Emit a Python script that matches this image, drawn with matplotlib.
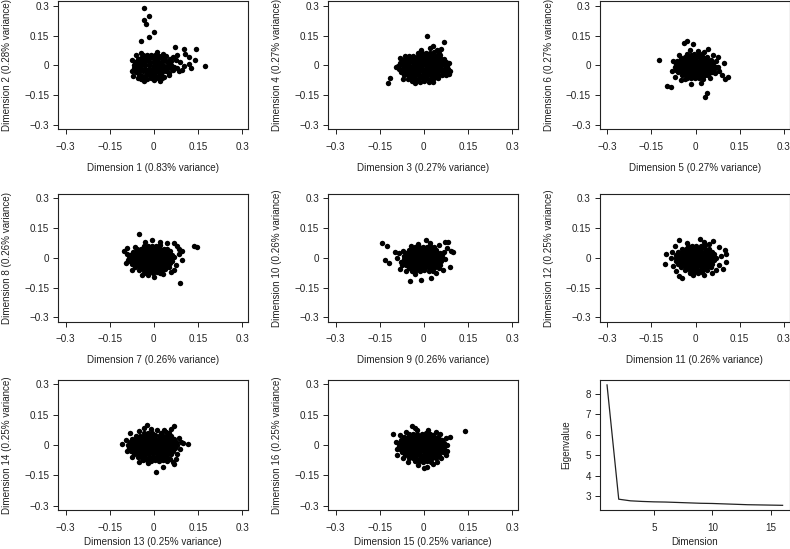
import matplotlib
matplotlib.use("Agg")
import matplotlib.pyplot as plt

plt.rcParams["font.family"] = ["Liberation Sans", "DejaVu Sans"]

# scores (x = odd dimension, y = even dimension)
dim1_dim2 = [
    (-0.036, 0.053), (-0.022, 0.050), (-0.009, 0.054), (0.004, 0.051), (0.017, 0.049),
    (-0.055, 0.033), (-0.042, 0.036), (-0.029, 0.034), (-0.016, 0.037), (-0.003, 0.035), (0.010, 0.033), (0.023, 0.036), (0.035, 0.032),
    (-0.064, 0.016), (-0.051, 0.019), (-0.038, 0.017), (-0.025, 0.020), (-0.012, 0.018), (0.001, 0.016), (0.014, 0.019), (0.027, 0.017), (0.040, 0.020), (0.050, 0.015),
    (-0.069, 0.002), (-0.056, -0.001), (-0.043, 0.003), (-0.030, 0.000), (-0.017, 0.002), (-0.004, -0.002), (0.009, 0.001), (0.022, 0.003), (0.035, -0.001), (0.048, 0.002), (0.060, 0.000),
    (-0.068, -0.015), (-0.055, -0.018), (-0.042, -0.014), (-0.029, -0.017), (-0.016, -0.016), (-0.003, -0.019), (0.010, -0.015), (0.023, -0.018), (0.036, -0.016), (0.049, -0.014), (0.061, -0.019),
    (-0.062, -0.032), (-0.049, -0.035), (-0.036, -0.031), (-0.023, -0.034), (-0.010, -0.033), (0.003, -0.036), (0.016, -0.032), (0.029, -0.034), (0.042, -0.031),
    (-0.052, -0.049), (-0.039, -0.052), (-0.026, -0.048), (-0.013, -0.051), (0.000, -0.050), (0.013, -0.053), (0.026, -0.049),
    (-0.036, -0.064), (-0.022, -0.067), (-0.008, -0.063), (0.006, -0.066), (0.019, -0.062),
    (-0.035, 0.290), (-0.018, 0.248), (-0.035, 0.228), (-0.027, 0.206), (0.002, 0.169), (-0.018, 0.144), (-0.044, 0.123),
    (0.073, 0.094), (0.101, 0.082), (0.144, 0.081), (0.107, 0.056), (0.120, 0.044), (0.141, 0.027), (0.173, -0.002),
    (0.121, 0.005), (0.127, -0.015), (0.101, -0.005), (0.090, 0.019), (0.080, 0.050), (0.095, -0.025), (0.064, 0.040),
    (0.070, -0.010), (0.085, -0.030), (-0.072, -0.053), (-0.043, -0.070), (-0.035, -0.078), (-0.001, -0.073), (0.027, -0.065),
    (0.050, -0.040), (0.075, 0.025), (0.060, 0.020), (0.065, -0.025), (0.078, -0.015), (-0.060, 0.050), (-0.045, 0.060),
    (0.030, 0.055), (0.040, 0.045), (0.055, 0.030), (-0.075, -0.030), (-0.074, 0.025), (0.050, -0.050), (-0.055, -0.062),
    (0.035, -0.060), (0.020, -0.080), (0.010, 0.065),
]

dim3_dim4 = [
    (-0.020, 0.063), (-0.006, 0.060), (0.008, 0.064), (0.022, 0.061), (0.036, 0.066),
    (-0.050, 0.045), (-0.037, 0.048), (-0.024, 0.044), (-0.011, 0.047), (0.002, 0.046), (0.015, 0.049), (0.028, 0.045), (0.041, 0.048), (0.054, 0.050),
    (-0.070, 0.029), (-0.057, 0.032), (-0.044, 0.028), (-0.031, 0.031), (-0.018, 0.030), (-0.005, 0.033), (0.008, 0.029), (0.021, 0.032), (0.034, 0.028), (0.047, 0.031), (0.060, 0.034), (0.070, 0.030),
    (-0.080, 0.013), (-0.067, 0.016), (-0.054, 0.012), (-0.041, 0.015), (-0.028, 0.014), (-0.015, 0.017), (-0.002, 0.013), (0.011, 0.016), (0.024, 0.012), (0.037, 0.015), (0.050, 0.017), (0.063, 0.013), (0.075, 0.016),
    (-0.088, -0.003), (-0.075, 0.000), (-0.062, -0.004), (-0.049, -0.001), (-0.036, -0.002), (-0.023, 0.001), (-0.010, -0.003), (0.003, 0.000), (0.016, -0.004), (0.029, -0.001), (0.042, 0.001), (0.055, -0.003), (0.068, 0.000), (0.080, -0.002),
    (-0.085, -0.019), (-0.072, -0.016), (-0.059, -0.020), (-0.046, -0.017), (-0.033, -0.018), (-0.020, -0.015), (-0.007, -0.019), (0.006, -0.016), (0.019, -0.020), (0.032, -0.017), (0.045, -0.015), (0.058, -0.019), (0.071, -0.016), (0.083, -0.020),
    (-0.078, -0.035), (-0.065, -0.032), (-0.052, -0.036), (-0.039, -0.033), (-0.026, -0.034), (-0.013, -0.031), (0.000, -0.035), (0.013, -0.032), (0.026, -0.036), (0.039, -0.033), (0.052, -0.031), (0.065, -0.035), (0.078, -0.034),
    (-0.068, -0.051), (-0.055, -0.048), (-0.042, -0.052), (-0.029, -0.049), (-0.016, -0.050), (-0.003, -0.047), (0.010, -0.051), (0.023, -0.048), (0.036, -0.052), (0.049, -0.049), (0.062, -0.047),
    (-0.055, -0.067), (-0.042, -0.064), (-0.029, -0.068), (-0.016, -0.065), (-0.003, -0.066), (0.010, -0.063), (0.023, -0.067), (0.036, -0.064), (0.048, -0.062),
    (-0.040, -0.081), (-0.026, -0.078), (-0.012, -0.082), (0.002, -0.079), (0.016, -0.083),
    (0.011, 0.147), (0.070, 0.116), (-0.115, -0.065), (-0.122, -0.090), (-0.070, -0.070), (0.090, -0.030), (0.086, 0.012),
    (0.060, 0.080), (0.045, 0.075), (0.020, 0.085), (0.030, 0.095), (0.052, 0.062), (-0.065, 0.045), (-0.080, 0.035),
    (-0.095, -0.010), (0.074, -0.050), (0.085, -0.045), (-0.030, -0.090), (0.030, -0.085), (-0.010, 0.075),
]

dim5_dim6 = [
    (-0.030, 0.056), (-0.017, 0.053), (-0.004, 0.057), (0.009, 0.054), (0.022, 0.058),
    (-0.050, 0.039), (-0.037, 0.042), (-0.024, 0.038), (-0.011, 0.041), (0.002, 0.040), (0.015, 0.043), (0.028, 0.039), (0.040, 0.042),
    (-0.062, 0.024), (-0.049, 0.027), (-0.036, 0.023), (-0.023, 0.026), (-0.010, 0.025), (0.003, 0.028), (0.016, 0.024), (0.029, 0.027), (0.042, 0.023), (0.054, 0.026),
    (-0.068, 0.009), (-0.055, 0.012), (-0.042, 0.008), (-0.029, 0.011), (-0.016, 0.010), (-0.003, 0.013), (0.010, 0.009), (0.023, 0.012), (0.036, 0.008), (0.049, 0.011), (0.061, 0.013),
    (-0.070, -0.006), (-0.057, -0.003), (-0.044, -0.007), (-0.031, -0.004), (-0.018, -0.005), (-0.005, -0.002), (0.008, -0.006), (0.021, -0.003), (0.034, -0.007), (0.047, -0.004), (0.060, -0.002), (0.068, -0.006),
    (-0.066, -0.021), (-0.053, -0.018), (-0.040, -0.022), (-0.027, -0.019), (-0.014, -0.020), (-0.001, -0.017), (0.012, -0.021), (0.025, -0.018), (0.038, -0.022), (0.051, -0.019), (0.062, -0.017),
    (-0.058, -0.036), (-0.045, -0.033), (-0.032, -0.037), (-0.019, -0.034), (-0.006, -0.035), (0.007, -0.032), (0.020, -0.036), (0.033, -0.033), (0.046, -0.037), (0.056, -0.034),
    (-0.046, -0.051), (-0.033, -0.048), (-0.020, -0.052), (-0.007, -0.049), (0.006, -0.050), (0.019, -0.047), (0.032, -0.051), (0.044, -0.048),
    (-0.030, -0.065), (-0.016, -0.062), (-0.002, -0.066), (0.012, -0.063), (0.026, -0.067),
    (-0.126, 0.027), (-0.098, -0.103), (-0.084, -0.107), (0.038, -0.137), (0.033, -0.157), (-0.040, 0.114), (-0.028, 0.120),
    (-0.008, 0.105), (0.043, 0.083), (0.098, 0.010), (0.110, -0.060), (0.100, -0.070), (0.090, -0.050), (0.077, -0.010),
    (-0.050, -0.075), (0.020, -0.090), (-0.015, -0.095), (-0.075, 0.020), (-0.080, -0.030), (-0.070, -0.060), (0.075, 0.040),
    (0.070, 0.020), (0.060, 0.050), (-0.055, 0.050), (-0.020, 0.075), (0.010, 0.070), (0.030, 0.065), (0.050, -0.065),
    (0.065, -0.040), (0.080, -0.030), (-0.035, -0.070),
]

dim7_dim8 = [
    (-0.035, 0.061), (-0.021, 0.058), (-0.007, 0.062), (0.007, 0.059), (0.021, 0.063),
    (-0.058, 0.044), (-0.045, 0.047), (-0.032, 0.043), (-0.019, 0.046), (-0.006, 0.045), (0.007, 0.048), (0.020, 0.044), (0.033, 0.047), (0.045, 0.043),
    (-0.072, 0.029), (-0.059, 0.032), (-0.046, 0.028), (-0.033, 0.031), (-0.020, 0.030), (-0.007, 0.033), (0.006, 0.029), (0.019, 0.032), (0.032, 0.028), (0.045, 0.031), (0.056, 0.033),
    (-0.080, 0.014), (-0.067, 0.017), (-0.054, 0.013), (-0.041, 0.016), (-0.028, 0.015), (-0.015, 0.018), (-0.002, 0.014), (0.011, 0.017), (0.024, 0.013), (0.037, 0.016), (0.050, 0.018), (0.062, 0.014),
    (-0.083, -0.001), (-0.070, 0.002), (-0.057, -0.002), (-0.044, 0.001), (-0.031, 0.000), (-0.018, 0.003), (-0.005, -0.001), (0.008, 0.002), (0.021, -0.002), (0.034, 0.001), (0.047, 0.003), (0.060, -0.001), (0.068, 0.002),
    (-0.080, -0.016), (-0.067, -0.013), (-0.054, -0.017), (-0.041, -0.014), (-0.028, -0.015), (-0.015, -0.012), (-0.002, -0.016), (0.011, -0.013), (0.024, -0.017), (0.037, -0.014), (0.050, -0.012), (0.062, -0.016),
    (-0.074, -0.031), (-0.061, -0.028), (-0.048, -0.032), (-0.035, -0.029), (-0.022, -0.030), (-0.009, -0.027), (0.004, -0.031), (0.017, -0.028), (0.030, -0.032), (0.043, -0.029), (0.055, -0.027),
    (-0.064, -0.046), (-0.051, -0.043), (-0.038, -0.047), (-0.025, -0.044), (-0.012, -0.045), (0.001, -0.042), (0.014, -0.046), (0.027, -0.043), (0.040, -0.047), (0.050, -0.044),
    (-0.050, -0.061), (-0.037, -0.058), (-0.024, -0.062), (-0.011, -0.059), (0.002, -0.060), (0.015, -0.057), (0.028, -0.061), (0.038, -0.058),
    (-0.032, -0.074), (-0.018, -0.071), (-0.004, -0.075), (0.010, -0.072), (0.022, -0.076),
    (0.135, 0.058), (0.148, 0.056), (0.090, -0.125), (-0.050, 0.118), (-0.100, 0.035), (-0.090, 0.050), (0.070, 0.075),
    (0.097, 0.035), (0.096, -0.010), (0.080, 0.060), (0.085, 0.045), (0.075, -0.035), (0.085, 0.020), (-0.092, 0.020),
    (-0.088, -0.010), (-0.095, -0.025), (-0.075, -0.060), (-0.020, -0.088), (0.030, -0.080), (0.060, -0.070), (0.070, -0.060),
    (-0.030, 0.080), (-0.005, 0.090), (0.020, 0.080), (0.045, 0.075), (-0.065, 0.055), (-0.040, -0.085), (0.000, -0.095),
]

dim9_dim10 = [
    (-0.030, 0.056), (-0.017, 0.053), (-0.004, 0.057), (0.009, 0.054), (0.022, 0.058), (0.034, 0.055),
    (-0.050, 0.039), (-0.037, 0.042), (-0.024, 0.038), (-0.011, 0.041), (0.002, 0.040), (0.015, 0.043), (0.028, 0.039), (0.041, 0.042),
    (-0.060, 0.024), (-0.047, 0.027), (-0.034, 0.023), (-0.021, 0.026), (-0.008, 0.025), (0.005, 0.028), (0.018, 0.024), (0.031, 0.027), (0.044, 0.023), (0.055, 0.026),
    (-0.066, 0.009), (-0.053, 0.012), (-0.040, 0.008), (-0.027, 0.011), (-0.014, 0.010), (-0.001, 0.013), (0.012, 0.009), (0.025, 0.012), (0.038, 0.008), (0.051, 0.011), (0.062, 0.013),
    (-0.068, -0.006), (-0.055, -0.003), (-0.042, -0.007), (-0.029, -0.004), (-0.016, -0.005), (-0.003, -0.002), (0.010, -0.006), (0.023, -0.003), (0.036, -0.007), (0.049, -0.004), (0.062, -0.002),
    (-0.065, -0.021), (-0.052, -0.018), (-0.039, -0.022), (-0.026, -0.019), (-0.013, -0.020), (0.000, -0.017), (0.013, -0.021), (0.026, -0.018), (0.039, -0.022), (0.052, -0.019), (0.060, -0.017),
    (-0.060, -0.036), (-0.047, -0.033), (-0.034, -0.037), (-0.021, -0.034), (-0.008, -0.035), (0.005, -0.032), (0.018, -0.036), (0.031, -0.033), (0.044, -0.037), (0.055, -0.034),
    (-0.052, -0.051), (-0.039, -0.048), (-0.026, -0.052), (-0.013, -0.049), (0.000, -0.050), (0.013, -0.047), (0.026, -0.051), (0.039, -0.048), (0.050, -0.050),
    (-0.040, -0.065), (-0.026, -0.062), (-0.012, -0.066), (0.002, -0.063), (0.016, -0.067), (0.030, -0.064),
    (-0.141, 0.076), (-0.127, 0.060), (-0.133, -0.010), (-0.117, -0.025), (-0.092, 0.000), (-0.098, 0.030), (-0.086, 0.023),
    (-0.080, -0.055), (-0.048, -0.118), (-0.009, -0.110), (0.024, -0.100), (0.073, 0.082), (0.082, 0.080), (0.093, 0.035),
    (0.090, -0.045), (0.008, 0.088), (0.073, -0.005), (-0.078, -0.020), (-0.075, -0.035), (-0.070, 0.035), (0.070, 0.030),
    (0.078, 0.050), (0.065, -0.060), (0.040, -0.075), (-0.030, -0.080), (-0.060, -0.065), (0.020, 0.075), (-0.020, 0.070),
    (0.050, 0.065), (-0.045, 0.060), (0.100, 0.030),
]

dim11_dim12 = [
    (-0.025, 0.061), (-0.011, 0.058), (0.003, 0.062), (0.017, 0.059), (0.031, 0.063),
    (-0.045, 0.044), (-0.032, 0.047), (-0.019, 0.043), (-0.006, 0.046), (0.007, 0.045), (0.020, 0.048), (0.033, 0.044), (0.046, 0.047),
    (-0.058, 0.029), (-0.045, 0.032), (-0.032, 0.028), (-0.019, 0.031), (-0.006, 0.030), (0.007, 0.033), (0.020, 0.029), (0.033, 0.032), (0.046, 0.028), (0.057, 0.031),
    (-0.065, 0.014), (-0.052, 0.017), (-0.039, 0.013), (-0.026, 0.016), (-0.013, 0.015), (0.000, 0.018), (0.013, 0.014), (0.026, 0.017), (0.039, 0.013), (0.052, 0.016), (0.064, 0.018),
    (-0.068, -0.001), (-0.055, 0.002), (-0.042, -0.002), (-0.029, 0.001), (-0.016, 0.000), (-0.003, 0.003), (0.010, -0.001), (0.023, 0.002), (0.036, -0.002), (0.049, 0.001), (0.062, 0.003), (0.070, -0.001),
    (-0.066, -0.016), (-0.053, -0.013), (-0.040, -0.017), (-0.027, -0.014), (-0.014, -0.015), (-0.001, -0.012), (0.012, -0.016), (0.025, -0.013), (0.038, -0.017), (0.051, -0.014), (0.064, -0.012),
    (-0.060, -0.031), (-0.047, -0.028), (-0.034, -0.032), (-0.021, -0.029), (-0.008, -0.030), (0.005, -0.027), (0.018, -0.031), (0.031, -0.028), (0.044, -0.032), (0.057, -0.029),
    (-0.050, -0.046), (-0.037, -0.043), (-0.024, -0.047), (-0.011, -0.044), (0.002, -0.045), (0.015, -0.042), (0.028, -0.046), (0.041, -0.043), (0.052, -0.047),
    (-0.035, -0.061), (-0.022, -0.058), (-0.009, -0.062), (0.004, -0.059), (0.017, -0.060), (0.030, -0.057), (0.040, -0.061),
    (-0.020, -0.074), (-0.006, -0.071), (0.008, -0.075), (0.022, -0.072),
    (-0.102, 0.019), (-0.105, -0.030), (-0.057, -0.093), (-0.046, -0.104), (0.100, 0.040), (0.102, 0.020), (0.105, -0.020),
    (0.093, -0.054), (0.060, 0.085), (0.014, 0.094), (-0.055, 0.090), (-0.080, 0.030), (-0.085, 0.000), (-0.078, -0.040),
    (0.080, 0.055), (0.085, 0.010), (0.080, -0.035), (0.070, -0.060), (-0.070, 0.060), (0.030, 0.080), (-0.030, 0.075),
    (0.045, 0.070), (-0.065, -0.065), (0.030, -0.085), (-0.010, -0.088), (0.055, -0.075),
]

dim13_dim14 = [
    (-0.035, 0.061), (-0.021, 0.058), (-0.007, 0.062), (0.025, 0.060), (0.040, 0.063), (0.052, 0.058),
    (-0.060, 0.044), (-0.047, 0.047), (-0.034, 0.043), (-0.021, 0.046), (-0.008, 0.045), (0.005, 0.048), (0.018, 0.044), (0.031, 0.047), (0.044, 0.043), (0.057, 0.046),
    (-0.074, 0.029), (-0.061, 0.032), (-0.048, 0.028), (-0.035, 0.031), (-0.022, 0.030), (-0.009, 0.033), (0.004, 0.029), (0.017, 0.032), (0.030, 0.028), (0.043, 0.031), (0.056, 0.033), (0.068, 0.029),
    (-0.082, 0.014), (-0.069, 0.017), (-0.056, 0.013), (-0.043, 0.016), (-0.030, 0.015), (-0.017, 0.018), (-0.004, 0.014), (0.009, 0.017), (0.022, 0.013), (0.035, 0.016), (0.048, 0.018), (0.061, 0.014), (0.074, 0.016),
    (-0.087, -0.001), (-0.074, 0.002), (-0.061, -0.002), (-0.048, 0.001), (-0.035, 0.000), (-0.022, 0.003), (-0.009, -0.001), (0.004, 0.002), (0.017, -0.002), (0.030, 0.001), (0.043, 0.003), (0.056, -0.001), (0.069, 0.002), (0.080, -0.002),
    (-0.084, -0.016), (-0.071, -0.013), (-0.058, -0.017), (-0.045, -0.014), (-0.032, -0.015), (-0.019, -0.012), (-0.006, -0.016), (0.007, -0.013), (0.020, -0.017), (0.033, -0.014), (0.046, -0.012), (0.059, -0.016), (0.072, -0.013),
    (-0.078, -0.031), (-0.065, -0.028), (-0.052, -0.032), (-0.039, -0.029), (-0.026, -0.030), (-0.013, -0.027), (0.000, -0.031), (0.013, -0.028), (0.026, -0.032), (0.039, -0.029), (0.052, -0.027), (0.065, -0.031),
    (-0.068, -0.046), (-0.055, -0.043), (-0.042, -0.047), (-0.029, -0.044), (-0.016, -0.045), (-0.003, -0.042), (0.010, -0.046), (0.023, -0.043), (0.036, -0.047), (0.049, -0.044), (0.060, -0.046),
    (-0.055, -0.061), (-0.042, -0.058), (-0.029, -0.062), (-0.016, -0.059), (-0.003, -0.060), (0.010, -0.057), (0.023, -0.061), (0.036, -0.058), (0.046, -0.062),
    (-0.038, -0.076), (-0.024, -0.073), (-0.010, -0.077), (0.004, -0.074), (0.018, -0.078), (0.030, -0.072),
    (-0.108, 0.005), (0.116, 0.003), (-0.024, 0.100), (0.008, -0.134), (0.030, -0.110), (0.065, -0.085), (0.070, -0.092),
    (0.054, -0.067), (-0.082, 0.060), (0.070, 0.092), (0.093, 0.017), (0.060, 0.080), (0.085, 0.035), (0.090, -0.020),
    (0.100, 0.010), (-0.095, 0.025), (-0.092, -0.030), (-0.075, -0.060), (-0.050, -0.085), (-0.020, -0.090), (0.012, 0.075),
    (-0.050, 0.070), (-0.010, 0.080), (-0.035, 0.085), (0.080, -0.045), (0.035, 0.075), (0.045, -0.080), (0.075, -0.070),
]

dim15_dim16 = [
    (-0.050, 0.056), (-0.036, 0.053), (-0.022, 0.057), (-0.008, 0.054), (0.006, 0.058), (0.020, 0.055), (0.032, 0.052),
    (-0.068, 0.039), (-0.055, 0.042), (-0.042, 0.038), (-0.029, 0.041), (-0.016, 0.040), (-0.003, 0.043), (0.010, 0.039), (0.023, 0.042), (0.036, 0.038), (0.048, 0.041),
    (-0.078, 0.024), (-0.065, 0.027), (-0.052, 0.023), (-0.039, 0.026), (-0.026, 0.025), (-0.013, 0.028), (0.000, 0.024), (0.013, 0.027), (0.026, 0.023), (0.039, 0.026), (0.052, 0.028), (0.062, 0.024),
    (-0.083, 0.009), (-0.070, 0.012), (-0.057, 0.008), (-0.044, 0.011), (-0.031, 0.010), (-0.018, 0.013), (-0.005, 0.009), (0.008, 0.012), (0.021, 0.008), (0.034, 0.011), (0.047, 0.013), (0.060, 0.009), (0.070, 0.012),
    (-0.085, -0.006), (-0.072, -0.003), (-0.059, -0.007), (-0.046, -0.004), (-0.033, -0.005), (-0.020, -0.002), (-0.007, -0.006), (0.006, -0.003), (0.019, -0.007), (0.032, -0.004), (0.045, -0.002), (0.058, -0.006), (0.070, -0.003),
    (-0.082, -0.021), (-0.069, -0.018), (-0.056, -0.022), (-0.043, -0.019), (-0.030, -0.020), (-0.017, -0.017), (-0.004, -0.021), (0.009, -0.018), (0.022, -0.022), (0.035, -0.019), (0.048, -0.017), (0.061, -0.021), (0.070, -0.018),
    (-0.075, -0.036), (-0.062, -0.033), (-0.049, -0.037), (-0.036, -0.034), (-0.023, -0.035), (-0.010, -0.032), (0.003, -0.036), (0.016, -0.033), (0.029, -0.037), (0.042, -0.034), (0.055, -0.032), (0.065, -0.036),
    (-0.065, -0.051), (-0.052, -0.048), (-0.039, -0.052), (-0.026, -0.049), (-0.013, -0.050), (0.000, -0.047), (0.013, -0.051), (0.026, -0.048), (0.039, -0.052), (0.050, -0.049),
    (-0.050, -0.066), (-0.037, -0.063), (-0.024, -0.067), (-0.011, -0.064), (0.002, -0.065), (0.015, -0.062), (0.028, -0.066), (0.040, -0.063),
    (-0.030, -0.081), (-0.016, -0.078), (-0.002, -0.082), (0.012, -0.079), (0.024, -0.083),
    (0.141, 0.067), (-0.104, 0.055), (-0.041, 0.096), (-0.054, -0.085), (0.010, -0.110), (0.090, 0.040), (-0.090, -0.048),
    (0.000, -0.115), (-0.020, -0.100), (0.030, -0.095), (0.075, 0.035), (0.080, 0.000), (0.078, -0.030), (0.060, -0.065),
    (-0.095, 0.015), (-0.090, -0.020), (-0.080, 0.050), (-0.060, 0.065), (-0.025, 0.075), (0.015, 0.075), (0.040, 0.065),
    (-0.070, -0.065), (0.055, 0.055), (0.075, -0.050), (-0.030, 0.085), (0.045, -0.085),
]

panels = [dim1_dim2, dim3_dim4, dim5_dim6, dim7_dim8, dim9_dim10, dim11_dim12, dim13_dim14, dim15_dim16]
variance = ["0.83%", "0.28%", "0.27%", "0.27%", "0.27%", "0.27%", "0.26%", "0.26%",
            "0.26%", "0.26%", "0.26%", "0.25%", "0.25%", "0.25%", "0.25%", "0.25%"]

score_ticks = [-0.3, -0.15, 0, 0.15, 0.3]
score_labels = ["\u22120.3", "\u22120.15", "0", "0.15", "0.3"]

dimensions = list(range(1, 17))
eigenvalues = [8.44, 2.85, 2.77, 2.74, 2.72, 2.71, 2.69, 2.67,
               2.65, 2.64, 2.62, 2.60, 2.58, 2.57, 2.56, 2.55]

fig = plt.figure(figsize=(7.9, 5.49), dpi=100)

lefts = [0.0738, 0.4156, 0.7595]
bottoms = [0.7645, 0.4140, 0.0710]
heights = [0.2330, 0.2326, 0.2368]
xlab_y = [-0.26, -0.26, -0.205]
width = 0.2400
fs = 7.1


def style(ax):
    for s in ax.spines.values():
        s.set_linewidth(0.8)
        s.set_color("#222222")
    ax.tick_params(direction="out", length=3.6, width=0.7, color="#222222",
                   labelsize=fs, labelcolor="#222222")
    ax.tick_params(axis="x", pad=5.5)
    ax.tick_params(axis="y", pad=3)


for i in range(9):
    r, c = divmod(i, 3)
    ax = fig.add_axes([lefts[c], bottoms[r], width, heights[r]])
    style(ax)
    if i < 8:
        pts = panels[i]
        xs = [p[0] for p in pts]
        ys = [p[1] for p in pts]
        ax.plot(xs, ys, "o", ms=3.9, color="black", mec="none")
        ax.set_xlim(-0.325, 0.32)
        ax.set_ylim(-0.322, 0.322)
        ax.set_xticks(score_ticks)
        ax.set_xticklabels(score_labels)
        ax.set_yticks(score_ticks)
        ax.set_yticklabels(score_labels)
        dx, dy = 2 * i + 1, 2 * i + 2
        ax.set_xlabel(f"Dimension {dx} ({variance[dx - 1]} variance)", fontsize=fs, color="#222222")
        ax.set_ylabel(f"Dimension {dy} ({variance[dy - 1]} variance)", fontsize=fs, color="#222222")
        ax.xaxis.set_label_coords(0.5, xlab_y[r])
        ax.yaxis.set_label_coords(-0.245, 0.5)
    else:
        ax.plot(dimensions, eigenvalues, color="#222222", lw=0.9)
        ax.set_xlim(0.4, 16.6)
        ax.set_ylim(2.32, 8.68)
        ax.set_xticks([5, 10, 15])
        ax.set_yticks([3, 4, 5, 6, 7, 8])
        ax.set_xlabel("Dimension", fontsize=fs, color="#222222")
        ax.set_ylabel("Eigenvalue", fontsize=fs, color="#222222")
        ax.xaxis.set_label_coords(0.5, xlab_y[r])
        ax.yaxis.set_label_coords(-0.15, 0.5)

fig.savefig("out.png", dpi=100)
